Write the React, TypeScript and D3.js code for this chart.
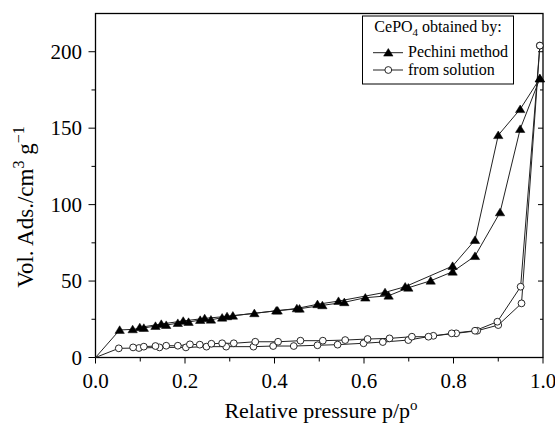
import React from "react";
import * as d3 from "d3";

const xMajorTicks = [0, 0.2, 0.4, 0.6, 0.8, 1.0];
const xMinorTicks = [0.1, 0.3, 0.5, 0.7, 0.9];
const yMajorTicks = [0, 50, 100, 150, 200];
const yMinorTicks = [25, 75, 125, 175];

const pechiniAdsP = [0.054, 0.083, 0.108, 0.134, 0.158, 0.184, 0.208, 0.234, 0.258, 0.283, 0.307, 0.355, 0.404, 0.456, 0.507, 0.556, 0.603, 0.655, 0.699, 0.749, 0.798, 0.848, 0.904, 0.949, 0.993];
const pechiniAdsV = [18.0, 18.4, 19.3, 20.6, 21.2, 22.5, 23.2, 24.5, 24.7, 26.0, 27.3, 28.9, 30.6, 31.9, 34.1, 36.1, 39.1, 40.4, 45.6, 50.2, 56.1, 66.3, 94.9, 149.4, 182.5];
const pechiniDesP = [0.993, 0.949, 0.9, 0.848, 0.798, 0.692, 0.647, 0.543, 0.496, 0.45, 0.407, 0.294, 0.244, 0.196, 0.147, 0.099];
const pechiniDesV = [182.5, 162.4, 145.4, 76.8, 59.8, 46.3, 42.6, 36.9, 34.8, 32.1, 30.6, 26.9, 25.6, 23.9, 21.9, 19.7];

const solutionAdsP = [0.052, 0.097, 0.143, 0.202, 0.248, 0.292, 0.353, 0.397, 0.443, 0.496, 0.541, 0.599, 0.642, 0.699, 0.755, 0.806, 0.853, 0.9, 0.952, 0.993];
const solutionAdsV = [6.0, 6.2, 6.6, 6.6, 7.1, 7.1, 7.1, 7.5, 7.5, 8.0, 8.4, 9.3, 10.1, 11.4, 14.2, 15.8, 17.5, 21.2, 35.4, 204];
const solutionDesP = [0.993, 0.95, 0.898, 0.848, 0.796, 0.744, 0.707, 0.657, 0.608, 0.558, 0.508, 0.458, 0.408, 0.357, 0.309, 0.283, 0.259, 0.233, 0.211, 0.184, 0.158, 0.134, 0.108, 0.084];
const solutionDesV = [204, 46.3, 23.4, 17.5, 15.8, 13.6, 13.6, 12.5, 12.1, 11.4, 11.0, 11.0, 10.3, 10.3, 9.3, 9.3, 9.0, 8.4, 8.6, 7.7, 7.7, 7.5, 7.1, 6.6];

const origin: [number, number] = [0, 0];

const W = 555;
const H = 425;
const M = { left: 95.5, right: 543, top: 13.5, bottom: 357.5 };
const FONT = "'Liberation Serif', 'Times New Roman', Times, serif";

type Pt = [number, number];
const zip = (a: number[], b: number[]): Pt[] => a.map((v, i) => [v, b[i]]);

export default function App() {
  const x = d3.scaleLinear().domain([0, 1]).range([M.left, M.right]);
  const y = d3.scaleLinear().domain([0, 225]).range([M.bottom, M.top]);
  const line = d3
    .line<Pt>()
    .x((d) => x(d[0]))
    .y((d) => y(d[1]));

  const pAds = zip(pechiniAdsP, pechiniAdsV);
  const pDes = zip(pechiniDesP, pechiniDesV);
  const sAds = zip(solutionAdsP, solutionAdsV);
  const sDes = zip(solutionDesP, solutionDesV);

  const tri = (cx: number, cy: number, key: string | number) => (
    <path
      key={key}
      d={`M${cx},${cy - 4.2}L${cx + 4.7},${cy + 3.4}L${cx - 4.7},${cy + 3.4}Z`}
      fill="#000"
      stroke="#000"
      strokeWidth={0.5}
    />
  );
  const circ = (cx: number, cy: number, key: string | number) => (
    <circle key={key} cx={cx} cy={cy} r={3.4} fill="#fff" stroke="#111" strokeWidth={0.9} />
  );
  const ts = { fontFamily: FONT };

  return (
    <svg
      width={W}
      height={H}
      style={{ position: "absolute", left: 0, top: 0, background: "#fff", fontFamily: FONT }}
    >
      {/* frame */}
      <rect
        x={M.left}
        y={M.top}
        width={M.right - M.left}
        height={M.bottom - M.top}
        fill="none"
        stroke="#000"
        strokeWidth={1.3}
      />
      {/* x ticks */}
      {xMajorTicks.map((t) => (
        <g key={"xM" + t}>
          <line x1={x(t)} x2={x(t)} y1={M.bottom} y2={M.bottom + 6} stroke="#000" strokeWidth={1} />
          <text x={x(t)} y={388} textAnchor="middle" fontSize={21} style={ts}>
            {d3.format(".1f")(t)}
          </text>
        </g>
      ))}
      {xMinorTicks.map((t) => (
        <line key={"xm" + t} x1={x(t)} x2={x(t)} y1={M.bottom} y2={M.bottom + 4} stroke="#000" strokeWidth={1} />
      ))}
      {/* y ticks */}
      {yMajorTicks.map((t) => (
        <g key={"yM" + t}>
          <line x1={M.left - 7} x2={M.left} y1={y(t)} y2={y(t)} stroke="#000" strokeWidth={1} />
          <line x1={M.right - 5} x2={M.right} y1={y(t)} y2={y(t)} stroke="#000" strokeWidth={1} />
          <text x={82} y={y(t) + 7} textAnchor="end" fontSize={21} style={ts}>
            {t}
          </text>
        </g>
      ))}
      {yMinorTicks.map((t) => (
        <g key={"ym" + t}>
          <line x1={M.left - 4} x2={M.left} y1={y(t)} y2={y(t)} stroke="#000" strokeWidth={1} />
          <line x1={M.right - 3} x2={M.right} y1={y(t)} y2={y(t)} stroke="#000" strokeWidth={1} />
        </g>
      ))}
      {/* axis titles */}
      <text x={321} y={418} textAnchor="middle" fontSize={22} style={ts}>
        Relative pressure p/p<tspan dy={-8} fontSize={15}>o</tspan>
      </text>
      <text transform="translate(33,207) rotate(-90)" textAnchor="middle" fontSize={23} style={ts}>
        Vol. Ads./cm<tspan dy={-9} fontSize={16}>3</tspan>
        <tspan dy={9}> g</tspan>
        <tspan dy={-9} fontSize={16}>−1</tspan>
      </text>

      {/* series lines */}
      <g fill="none" stroke="#222" strokeWidth={1}>
        <path d={line([origin, ...pAds]) || ""} />
        <path d={line(pDes) || ""} />
        <path d={line([origin, ...sAds]) || ""} />
        <path d={line(sDes) || ""} />
      </g>
      {/* markers */}
      <g>
        {sAds.map((d, i) => circ(x(d[0]), y(d[1]), "sa" + i))}
        {sDes.map((d, i) => circ(x(d[0]), y(d[1]), "sd" + i))}
        {pAds.map((d, i) => tri(x(d[0]), y(d[1]), "pa" + i))}
        {pDes.map((d, i) => tri(x(d[0]), y(d[1]), "pd" + i))}
      </g>

      {/* legend */}
      <g>
        <rect x={362.5} y={16} width={151} height={68} fill="#fff" stroke="#000" strokeWidth={1} />
        <text x={438} y={32} textAnchor="middle" fontSize={16} style={ts}>
          CePO<tspan dy={4} fontSize={11}>4</tspan>
          <tspan dy={-4}> obtained by:</tspan>
        </text>
        <line x1={373} x2={403} y1={52.7} y2={52.7} stroke="#222" strokeWidth={1} />
        {tri(388.3, 52.7, "legtri")}
        <text x={408} y={57} fontSize={16} style={ts}>
          Pechini method
        </text>
        <line x1={373} x2={403} y1={70} y2={70} stroke="#222" strokeWidth={1} />
        {circ(388.3, 70, "legcirc")}
        <text x={408} y={74.5} fontSize={16} style={ts}>
          from solution
        </text>
      </g>
    </svg>
  );
}
